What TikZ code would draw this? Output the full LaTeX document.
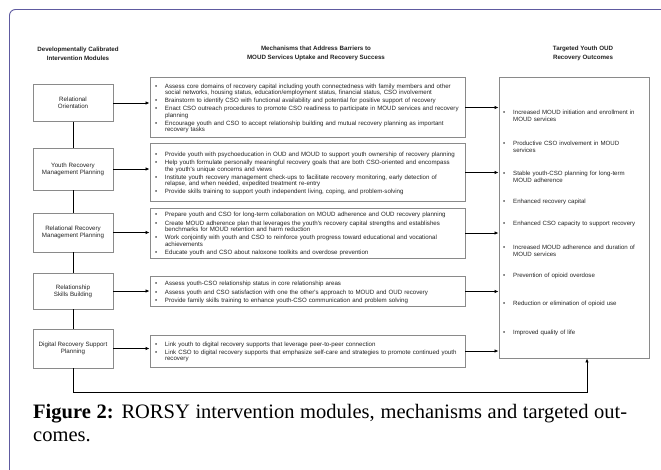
\documentclass[tikz,border=0pt]{standalone}
\usepackage{fontspec}
\setmainfont{Liberation Serif}
\newfontfamily\arialf{Liberation Sans}
\usetikzlibrary{arrows.meta}
\definecolor{boxgray}{HTML}{8A8A8A}
\definecolor{framecol}{HTML}{5E5AA0}
\definecolor{txt}{HTML}{222222}
\newcommand\bul{\par\hangindent=10pt\hangafter=1\noindent\makebox[10pt][l]{\textbullet}\ignorespaces}
\newcommand\nbul{\par\vspace{1.7pt}\bul}
\tikzset{
  hdr/.style={align=center, font=\arialf\bfseries\fontsize{6.2}{8.6}\selectfont, text=txt, inner sep=0pt},
  modbox/.style={draw=boxgray, line width=0.8pt, minimum width=80pt, align=center,
    font=\arialf\fontsize{6.2}{7.2}\selectfont, text=txt, inner sep=2pt},
  mechbox/.style={draw=boxgray, line width=0.9pt, text width=305pt, inner xsep=5pt, inner ysep=2pt,
    align=left, font=\arialf\fontsize{6.15}{6.45}\selectfont, text=txt},
  outbox/.style={draw=boxgray, line width=0.9pt, minimum width=150pt, inner sep=0pt},
  outitem/.style={anchor=west, text width=135pt, inner sep=0pt, align=left,
    font=\arialf\fontsize{6.1}{7}\selectfont, text=txt},
  arr/.style={line width=1pt, -{Latex[length=4pt,width=3.5pt]}},
  conn/.style={line width=1pt},
}
\begin{document}
\begin{tikzpicture}[x=1pt,y=-1pt]
\useasboundingbox (0,0) rectangle (661,469);
\begin{scope}
\clip (0,0) rectangle (661,469);
\draw[framecol, line width=0.9pt, rounded corners=6pt] (9.5,480) -- (9.5,9.5) -- (680,9.5);
\end{scope}

% headers
\node[hdr] (h1) at (78,53.5) {Developmentally Calibrated\\Intervention Modules};
\node[hdr] (h2) at (316,53.5) {Mechanisms that Address Barriers to\\MOUD Services Uptake and Recovery Success};
\node[hdr] (h3) at (583,53.5) {Targeted Youth OUD\\Recovery Outcomes};

% modules
\node[modbox, minimum height=37pt] (m1) at (73,103) {Relational\\Orientation};
\node[modbox, minimum height=42pt] (m2) at (73,169) {Youth Recovery\\Management Planning};
\node[modbox, minimum height=39pt] (m3) at (73,232.5) {Relational Recovery\\Management Planning};
\node[modbox, minimum height=36pt] (m4) at (73,291) {Relationship\\Skills Building};
\node[modbox, minimum height=39pt] (m5) at (73,348.5) {Digital Recovery Support\\Planning};

% mechanisms
\node[mechbox, minimum height=60pt] (c1) at (307.5,107.5) {%
\bul Assess core domains of recovery capital including youth connectedness with family members and other\newline social networks, housing status, education/employment status, financial status, CSO involvement
\nbul Brainstorm to identify CSO with functional availability and potential for positive support of recovery
\nbul Enact CSO outreach procedures to promote CSO readiness to participate in MOUD services and recovery\newline planning
\nbul Encourage youth and CSO to accept relationship building and mutual recovery planning as important\newline recovery tasks\par};
\node[mechbox, minimum height=58pt] (c2) at (307.5,172.5) {%
\bul Provide youth with psychoeducation in OUD and MOUD to support youth ownership of recovery planning
\nbul Help youth formulate personally meaningful recovery goals that are both CSO-oriented and encompass\newline the youth's unique concerns and views
\nbul Institute youth recovery management check-ups to facilitate recovery monitoring, early detection of\newline relapse, and when needed, expedited treatment re-entry
\nbul Provide skills training to support youth independent living, coping, and problem-solving\par};
\node[mechbox, minimum height=50pt] (c3) at (307.5,233) {%
\bul Prepare youth and CSO for long-term collaboration on MOUD adherence and OUD recovery planning
\nbul Create MOUD adherence plan that leverages the youth's recovery capital strengths and establishes\newline benchmarks for MOUD retention and harm reduction
\nbul Work conjointly with youth and CSO to reinforce youth progress toward educational and vocational\newline achievements
\nbul Educate youth and CSO about naloxone toolkits and overdose prevention\par};
\node[mechbox, minimum height=30pt] (c4) at (307.5,291.5) {%
\bul Assess youth-CSO relationship status in core relationship areas
\nbul Assess youth and CSO satisfaction with one the other's approach to MOUD and OUD recovery
\nbul Provide family skills training to enhance youth-CSO communication and problem solving\par};
\node[mechbox, minimum height=32pt] (c5) at (307.5,351) {%
\bul Link youth to digital recovery supports that leverage peer-to-peer connection
\nbul Link CSO to digital recovery supports that emphasize self-care and strategies to promote continued youth\newline recovery\par};

% outcomes
\node[outbox, minimum height=281pt] (out) at (574,217.5) {};
\node[outitem] (o1) at (503,114.5) {\bul Increased MOUD initiation and enrollment in\newline MOUD services\par};
\node[outitem] (o2) at (503,145.5) {\bul Productive CSO involvement in MOUD\newline services\par};
\node[outitem] (o3) at (503,175.5) {\bul Stable youth-CSO planning for long-term\newline MOUD adherence\par};
\node[outitem] (o4) at (503,201) {\bul Enhanced recovery capital\par};
\node[outitem] (o5) at (503,223) {\bul Enhanced CSO capacity to support recovery\par};
\node[outitem] (o6) at (503,249.5) {\bul Increased MOUD adherence and duration of\newline MOUD services\par};
\node[outitem] (o7) at (503,275) {\bul Prevention of opioid overdose\par};
\node[outitem] (o8) at (503,303) {\bul Reduction or elimination of opioid use\par};
\node[outitem] (o9) at (503,332) {\bul Improved quality of life\par};

% connectors
\foreach \i in {1,...,5} {
  \draw[arr] (m\i.east) -- (m\i.east -| c\i.west);
  \draw[arr] (c\i.east) -- (c\i.east -| out.west);
}
\draw[conn] (m1) -- (m2);
\draw[conn] (m2) -- (m3);
\draw[conn] (m3) -- (m4);
\draw[conn] (m4) -- (m5);
\coordinate (b1) at (73,392);
\coordinate (b2) at (587,392);
\draw[arr] (m5.south) -- (b1) -- (b2) -- (b2 |- out.south);

% caption
\node[anchor=north west, text width=594pt, align=justify, inner sep=0pt,
  font=\fontsize{20.5}{23}\selectfont, text=black] (cap) at (33,404)
  {\textbf{Figure 2:} RORSY intervention modules, mechanisms and targeted out-\linebreak comes.};
\end{tikzpicture}
\end{document}
